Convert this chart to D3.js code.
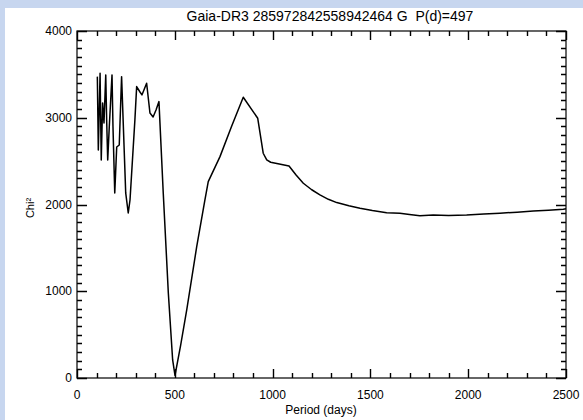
<!DOCTYPE html>
<html>
<head>
<meta charset="utf-8">
<script src="https://cdn.jsdelivr.net/npm/d3@7"></script>
<style>
  body { margin: 0; background: #fff; }
  svg text { font-family: "Liberation Sans", "DejaVu Sans", sans-serif; fill: #000; white-space: pre; }
</style>
</head>
<body>
<svg id="chart" width="583" height="420"></svg>
<script>
// periodogram
const periods = [104, 109, 118, 124, 131, 138, 147, 152, 157, 165, 179, 184, 193, 203, 216, 228, 249, 262, 271, 296, 305, 322, 332, 356, 373, 389, 404, 419,
  441, 467, 489, 501, 530, 561, 612, 654, 671, 731, 790, 850, 924, 952, 970, 990, 1034, 1084, 1120, 1157, 1200, 1242, 1285, 1328, 1390, 1447, 1510, 1583,
  1651, 1700, 1753, 1821, 1900, 1992, 2080, 2162, 2250, 2333, 2410, 2486, 2500]
const chi2 = [3474, 2629, 3513, 2514, 3171, 2940, 3494, 2940, 2514, 2894, 3494, 2894, 2133, 2663, 2686, 3474, 2133, 1902, 2052, 2975, 3359, 3297, 3263, 3398, 3055, 3009, 3090, 3186,
  2130, 977, 208, 30, 380, 784, 1514, 2052, 2263, 2552, 2900, 3236, 2994, 2591, 2514, 2487, 2467, 2444, 2340, 2245, 2170, 2110, 2060, 2022, 1985, 1957, 1930, 1906,
  1899, 1885, 1871, 1879, 1874, 1879, 1890, 1899, 1912, 1925, 1935, 1945, 1950]
const xMajor = [0, 500, 1000, 1500, 2000, 2500]
const yMajor = [0, 1000, 2000, 3000, 4000]
const title = 'Gaia-DR3 285972842558942464 G  P(d)=497'

const svg = d3.select('#chart')
const m = { left: 77, right: 566, top: 31, bottom: 378 }

// light blue strips on top and left
svg.append('rect').attr('x', 0).attr('y', 0).attr('width', 583).attr('height', 8).attr('fill', '#c7d6ef')
svg.append('rect').attr('x', 0).attr('y', 0).attr('width', 5).attr('height', 420).attr('fill', '#c7d6ef')

const x = d3.scaleLinear().domain([0, 2500]).range([m.left, m.right])
const y = d3.scaleLinear().domain([0, 4000]).range([m.bottom, m.top])

const xt = d3.range(0, 2501, 100)
const yt = d3.range(0, 4001, 100)

// ticks drawn as a single path, pointing inward on all four sides
const tickPath = d3.path()
xt.forEach(d => {
  const xx = Math.round(x(d)) + 0.5, len = d % 500 ? 5 : 9
  tickPath.moveTo(xx, m.bottom); tickPath.lineTo(xx, m.bottom - len)
  tickPath.moveTo(xx, m.top); tickPath.lineTo(xx, m.top + len)
})
yt.forEach(d => {
  const yy = Math.round(y(d)) + 0.5, len = d % 1000 ? 5 : 10
  tickPath.moveTo(m.left, yy); tickPath.lineTo(m.left + len, yy)
  tickPath.moveTo(m.right, yy); tickPath.lineTo(m.right - len, yy)
})
svg.append('path').attr('d', tickPath.toString())
  .attr('fill', 'none').attr('stroke', '#000').attr('stroke-width', 1.4)

svg.append('rect')
  .attr('x', m.left).attr('y', m.top)
  .attr('width', m.right - m.left).attr('height', m.bottom - m.top)
  .attr('fill', 'none').attr('stroke', '#000').attr('stroke-width', 1.2)

svg.append('g').selectAll('text').data(xMajor).join('text')
  .attr('x', d => x(d)).attr('y', m.bottom + 21)
  .attr('text-anchor', 'middle').attr('font-size', 12).text(d => d)
svg.append('g').selectAll('text').data(yMajor).join('text')
  .attr('x', m.left - 5).attr('y', d => y(d) + 4)
  .attr('text-anchor', 'end').attr('font-size', 12).text(d => d)

const line = d3.line().x((d, i) => x(periods[i])).y(d => y(d))
svg.append('path').datum(chi2)
  .attr('d', line)
  .attr('fill', 'none').attr('stroke', '#000').attr('stroke-width', 1.5)
  .attr('stroke-linejoin', 'round')

svg.append('text').attr('x', 330).attr('y', 21).attr('text-anchor', 'middle')
  .attr('font-size', 14).text(title)
svg.append('text').attr('x', 321).attr('y', 414).attr('text-anchor', 'middle')
  .attr('font-size', 12).text('Period (days)')
svg.append('text').attr('transform', 'translate(34,208) rotate(-90)').attr('text-anchor', 'middle')
  .attr('font-size', 11).text('Chi²')
</script>
</body>
</html>
